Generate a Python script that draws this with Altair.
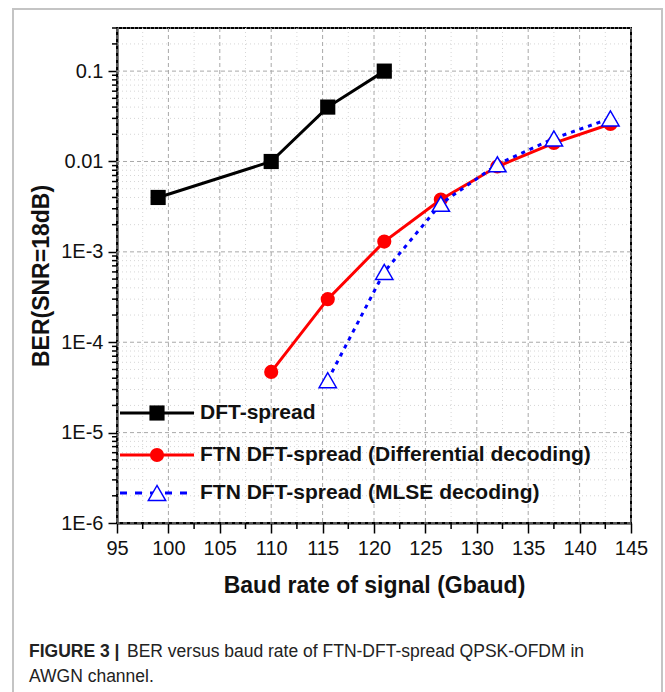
import altair as alt
import pandas as pd

# ---------------- data ----------------
baud_dft = [99, 110, 115.5, 121]
ber_dft = [0.004, 0.01, 0.04, 0.1]

baud_diff = [110, 115.5, 121, 126.5, 132, 137.5, 143]
ber_diff = [4.7e-5, 3.0e-4, 1.3e-3, 3.8e-3, 8.8e-3, 0.016, 0.026]

baud_mlse = [115.5, 121, 126.5, 132, 137.5, 143]
ber_mlse = [3.8e-5, 6.0e-4, 3.4e-3, 9.3e-3, 0.018, 0.030]

series_names = [
    "DFT-spread",
    "FTN DFT-spread (Differential decoding)",
    "FTN DFT-spread (MLSE decoding)",
]

x_major = [95, 100, 105, 110, 115, 120, 125, 130, 135, 140, 145]
x_minor = [97.5, 102.5, 107.5, 112.5, 117.5, 122.5, 127.5, 132.5, 137.5, 142.5]
y_major = [1e-6, 1e-5, 1e-4, 1e-3, 0.01, 0.1]
y_major_labels = ["1E-6", "1E-5", "1E-4", "1E-3", "0.01", "0.1"]
y_minor = [m * d for d in [1e-6, 1e-5, 1e-4, 1e-3, 0.01] for m in range(2, 10)] + [0.2, 0.3]

caption_bold = "FIGURE 3 |"
caption_rest = "BER versus baud rate of FTN-DFT-spread QPSK-OFDM in"
caption_line2 = "AWGN channel."

# ---------------- layout ----------------
W, H = 514, 495
PAD_L, PAD_T = 117, 28
FONT = "Liberation Sans"

y_label_expr = ""
for v, lab in zip(y_major, y_major_labels):
    y_label_expr += f"abs(datum.value/{v} - 1) < 1e-6 ? '{lab}' : "
y_label_expr += "''"

xscale = alt.Scale(domain=[95, 145], nice=False, zero=False)
yscale = alt.Scale(type="log", domain=[1e-6, 0.3], nice=False)

x_axis = alt.Axis(
    values=x_major, format="d", tickSize=10, grid=False,
    domainColor="black", domainWidth=2, tickColor="black", tickWidth=1.5,
    labelFont=FONT, labelFontSize=20, labelColor="#111111", labelPadding=5,
    labelFlush=False, labelOverlap=False,
    title="Baud rate of signal (Gbaud)", titleFont=FONT, titleFontSize=23,
    titleFontWeight="bold", titleColor="#111111", titlePadding=16,
)
y_axis = alt.Axis(
    values=y_major, labelExpr=y_label_expr, tickSize=9, grid=False,
    domainColor="black", domainWidth=2, tickColor="black", tickWidth=1.5,
    labelFont=FONT, labelFontSize=20, labelColor="#111111", labelPadding=5,
    labelFlush=False, labelOverlap=False,
    title="BER(SNR=18dB)", titleFont=FONT, titleFontSize=23,
    titleFontWeight="bold", titleColor="#111111", titlePadding=7,
)

X = lambda: alt.X("baud:Q", scale=xscale, axis=x_axis)
Y = lambda: alt.Y("ber:Q", scale=yscale, axis=y_axis)

# ---------------- frame (drawn first) ----------------
frame = alt.Chart(pd.DataFrame({"a": [0]})).mark_rect(
    fill="white", fillOpacity=0, stroke="#c4c4c4", strokeWidth=2).encode(
    x=alt.value(13 - PAD_L), x2=alt.value(662 - PAD_L),
    y=alt.value(9 - PAD_T), y2=alt.value(760))

# ---------------- grid & minor ticks ----------------
grid_x_minor = alt.Chart(pd.DataFrame({"baud": x_minor})).mark_rule(
    color="#d6d6d6", strokeWidth=1, strokeDash=[1, 3]).encode(x=X())
grid_y_minor = alt.Chart(pd.DataFrame({"ber": y_minor})).mark_rule(
    color="#d6d6d6", strokeWidth=1, strokeDash=[1, 3]).encode(y=Y())
grid_x_major = alt.Chart(pd.DataFrame({"baud": x_major})).mark_rule(
    color="#a8a8a8", strokeWidth=1, strokeDash=[4, 3]).encode(x=X())
grid_y_major = alt.Chart(pd.DataFrame({"ber": y_major})).mark_rule(
    color="#a8a8a8", strokeWidth=1, strokeDash=[4, 3]).encode(y=Y())

tick_x_minor = alt.Chart(pd.DataFrame({"baud": x_minor})).mark_rule(
    color="black", strokeWidth=1.5).encode(x=X(), y=alt.value(H), y2=alt.value(H + 6))
tick_y_minor = alt.Chart(pd.DataFrame({"ber": y_minor})).mark_rule(
    color="black", strokeWidth=1.5).encode(y=Y(), x=alt.value(-5), x2=alt.value(0))

# ---------------- series ----------------
df_dft = pd.DataFrame({"baud": baud_dft, "ber": ber_dft})
df_diff = pd.DataFrame({"baud": baud_diff, "ber": ber_diff})
df_mlse = pd.DataFrame({"baud": baud_mlse, "ber": ber_mlse})

dft_line = alt.Chart(df_dft).mark_line(color="black", strokeWidth=3).encode(x=X(), y=Y())
dft_pts = alt.Chart(df_dft).mark_point(shape="square", filled=True, color="black",
                                       size=230, opacity=1).encode(x=X(), y=Y())
diff_line = alt.Chart(df_diff).mark_line(color="#ff0000", strokeWidth=3).encode(x=X(), y=Y())
diff_pts = alt.Chart(df_diff).mark_point(shape="circle", filled=True, color="#ff0000",
                                         size=200, opacity=1).encode(x=X(), y=Y())
mlse_line = alt.Chart(df_mlse).mark_line(color="#0000ff", strokeWidth=3,
                                         strokeDash=[4, 5]).encode(x=X(), y=Y())
mlse_pts = alt.Chart(df_mlse).mark_point(shape="triangle-up", filled=False,
                                         fill="white", fillOpacity=1,
                                         stroke="#0000ff", strokeWidth=1.5,
                                         size=300, opacity=1).encode(x=X(), y=Y())

# ---------------- legend (manual, inside plot) ----------------
leg_y = [385, 427, 465]
leg_x0, leg_x1, leg_mx, leg_tx = 3, 77, 40, 83
legend_layers = []
styles = [
    dict(color="black", dash=None),
    dict(color="#ff0000", dash=None),
    dict(color="#0000ff", dash=[7, 8]),
]
for i, name in enumerate(series_names):
    d = pd.DataFrame({"label": [name]})
    st = styles[i]
    rule_kwargs = dict(color=st["color"], strokeWidth=3)
    if st["dash"]:
        rule_kwargs["strokeDash"] = st["dash"]
    legend_layers.append(
        alt.Chart(d).mark_rule(**rule_kwargs).encode(
            x=alt.value(leg_x0), x2=alt.value(leg_x1), y=alt.value(leg_y[i]))
    )
    if i == 0:
        pt = alt.Chart(d).mark_point(shape="square", filled=True, color="black",
                                     size=230, opacity=1)
    elif i == 1:
        pt = alt.Chart(d).mark_point(shape="circle", filled=True, color="#ff0000",
                                     size=200, opacity=1)
    else:
        pt = alt.Chart(d).mark_point(shape="triangle-up", filled=False, fill="white",
                                     fillOpacity=1, stroke="#0000ff", strokeWidth=1.5,
                                     size=300, opacity=1)
    legend_layers.append(pt.encode(x=alt.value(leg_mx), y=alt.value(leg_y[i])))
    legend_layers.append(
        alt.Chart(d).mark_text(font=FONT, fontSize=21, fontWeight="bold", align="left",
                               baseline="middle", color="#111111").encode(
            text="label:N", x=alt.value(leg_tx), y=alt.value(leg_y[i]))
    )

# ---------------- caption ----------------
cap1 = alt.Chart(pd.DataFrame({"t": [caption_bold]})).mark_text(
    font=FONT, fontSize=17.5, fontWeight="bold", align="left",
    baseline="middle", color="#222222").encode(
    text="t:N", x=alt.value(29 - PAD_L), y=alt.value(652 - PAD_T))
cap2 = alt.Chart(pd.DataFrame({"t": [caption_rest]})).mark_text(
    font=FONT, fontSize=17.5, align="left", baseline="middle", color="#222222").encode(
    text="t:N", x=alt.value(127 - PAD_L), y=alt.value(652 - PAD_T))
cap3 = alt.Chart(pd.DataFrame({"t": [caption_line2]})).mark_text(
    font=FONT, fontSize=17.5, align="left", baseline="middle", color="#222222").encode(
    text="t:N", x=alt.value(29 - PAD_L), y=alt.value(677 - PAD_T))

chart = alt.layer(
    frame,
    grid_x_minor, grid_y_minor, grid_x_major, grid_y_major,
    dft_line, dft_pts, diff_line, diff_pts, mlse_line, mlse_pts,
    tick_x_minor, tick_y_minor,
    *legend_layers, cap1, cap2, cap3,
).properties(
    width=W, height=H,
    padding={"left": PAD_L, "top": PAD_T, "right": 665 - PAD_L - W, "bottom": 692 - PAD_T - H},
    autosize=alt.AutoSizeParams(type="none"),
    background="white",
).configure_view(stroke="black", strokeWidth=2)

chart.save("out.html", embed_options={"renderer": "svg", "actions": False})
